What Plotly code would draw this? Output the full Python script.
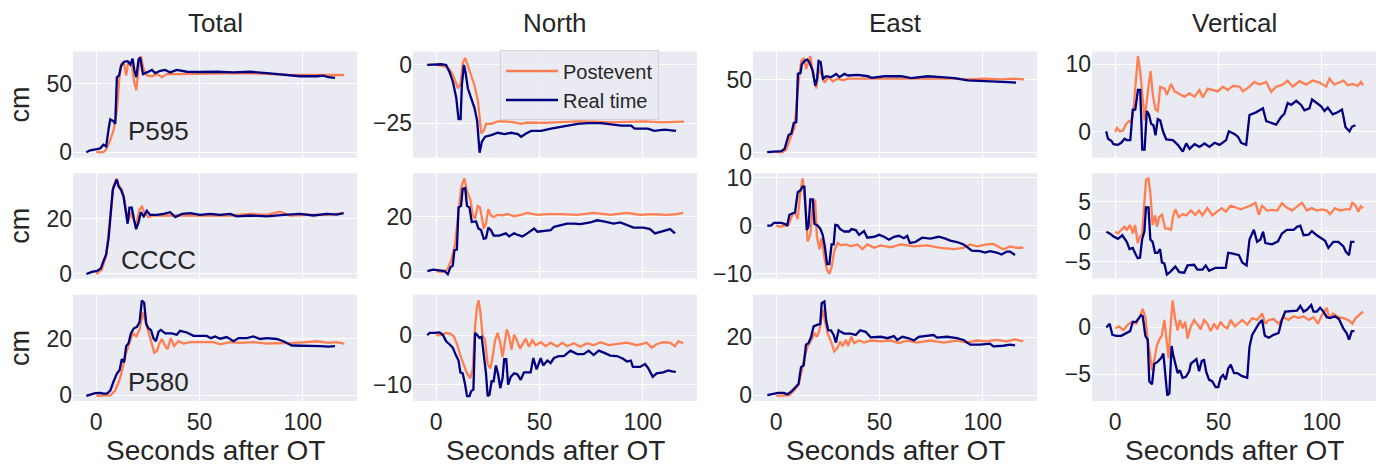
import plotly.graph_objects as go

# ---------------- data: seconds after OT, displacement in cm ----------------
# P595
p595_total_rt_t = [-4.8,-2.9,0.3,1.9,3.5,4.8,6,6.8,8.4,9.2,10,11.1,12,13.5,15.2,16.5,17.6,18.5,19.4,20.5,21.3,22.6,24.5,27,28.5,31,33.4,35.8,39,43.9,50.3,58.4,66.5,74.5,82.6,90.6,98.7,106.8,110,112.4,115.6]
p595_total_rt_v = [0,1.4,2.3,2.8,5.4,4.2,17,24,22.5,20.7,54.7,56,63,66,66.4,64,68.3,59.4,54.7,67.6,69.2,57,58.2,60,57.7,59.4,60,58.2,60,58.7,58.5,58.7,58.2,58.7,57.7,56.3,55.4,55.4,55.9,54.7,54.2]
p595_total_post_t = [0,3.5,4.8,6.8,8.4,10,11.3,12.4,13.5,14.5,15.6,17.3,18.4,19.4,20.5,21.6,22.9,24.5,27,29.4,31.8,34.2,39,45.5,53.5,63.2,74.5,85.8,95.5,106.8,114.8,120]
p595_total_post_v = [0,0,2,9,16,30,56,65,64,56,66.4,63,51,45.3,61.7,70,60.6,56,55.4,57,54.7,57,57,57,57.5,57.5,57.7,57,56.3,56.3,56.6,56.3]

p595_north_rt_t = [-4.4,2.4,4.8,6.5,8.1,9.7,10.8,11.8,12.4,13.4,14.2,15.3,16.9,18.5,19.8,21,22.1,23.7,26.6,29.8,33,36.3,39.5,41.1,43.5,46,50.8,55.6,63.7,68.5,73.4,79.8,89.5,94.4,96,102.4,105.6,110.5,116.1]
p595_north_rt_v = [0,0.3,0,-3.2,-7.3,-14.2,-23.2,-23.2,-8.7,0,-3.2,-10,-14.2,-18.4,-23.9,-37.7,-32.9,-30.8,-30.1,-29.1,-29.7,-29.1,-29.7,-30.8,-29.4,-28.3,-28.3,-27.3,-26,-25.3,-25,-25,-26,-26,-27.3,-27.3,-28.3,-27.8,-28.3]
p595_north_post_t = [0,3.2,5.3,6.9,8.5,10.5,11.8,12.9,14,15,16.1,17.3,18.5,20.2,21.8,23.1,24.2,26.6,29.8,33,37.9,41.1,44.4,52.4,60.5,68.5,76.6,84.7,92.7,100.8,108.9,115.3,120]
p595_north_post_v = [0,-0.4,-1.1,-2.5,-5.2,-10,-8,1,3,0.3,-3.2,-5.9,-8.7,-15.6,-29.4,-28,-25.3,-25.3,-24.2,-24.2,-24.6,-25.3,-24.7,-24.9,-24.6,-24.2,-24.3,-24.6,-24.4,-24.2,-24.6,-24.3,-24.3]

p595_east_rt_t = [-4.4,2.4,4,6,7.3,8.5,9.7,10.5,11.8,12.4,13.7,15,16.1,17.7,18.9,19.8,20.5,21.5,22.6,24.2,26.6,29,30.6,33,34.7,39.5,44.4,46,52.4,60.5,65.3,73.4,79.8,86.3,92.7,100.8,108.9,112.1,116.1]
p595_east_rt_v = [0,0.7,2.2,11.8,12.9,20.2,20.7,54,54.7,60.7,62.9,64,61.8,56.2,45.8,50.7,62.9,62.2,50.7,52.4,51.8,54,51.8,54,52.9,53.3,52.4,51.3,52.4,52.4,51.1,52.4,51.8,51.1,49.6,49.1,49.1,48.4,48]
p595_east_post_t = [0,3.2,4.8,6.9,8.9,10.8,12.1,13.4,14.5,15.6,16.6,17.7,19.4,20.5,21.8,23.4,25.3,27.4,29.8,32.3,34.7,39.5,44.4,52.4,60.5,68.5,76.6,84.7,92.7,100.8,108.9,115.3,120]
p595_east_post_v = [0,0,1.8,9.6,17.3,48.4,62.9,65,57.3,62.9,66.2,54,44,57.3,54,48,51.8,48.9,50.7,49.6,50.7,50.7,50.7,50.7,51.1,50.7,51.1,50.7,50.2,50.7,50.2,50.7,50.2]

p595_vert_rt_t = [-4.4,-3.5,-1.9,-0.8,1.3,2.9,4.5,5.6,7.3,8.5,9.7,11,12.1,13.1,14.2,15.3,16.3,17.4,18.5,19.5,20.6,21.8,23.1,24.7,27.9,30.3,32.7,34.4,36,38.4,40.8,43.2,45.6,48.1,50.5,53.7,55,57.7,59.4,61,63.4,65,68.2,71.5,73.1,75.5,77.9,80.3,81.9,83.5,85.2,87.6,90,91.6,94,95.3,97.3,99.7,101.3,102.9,105.3,107.7,109.8,111.5,113.4,114.7,116.3]
p595_vert_rt_v = [0.1,-1,-1.3,-1.8,-1.9,-1.6,-1,-1.2,-1.2,3.3,3.3,6.2,6.2,-2.6,-2.6,3.1,2.6,1.2,1,-0.5,1.9,1.7,0.1,-1.1,-1.2,-1.9,-2.9,-1.7,-2.5,-1.8,-2.2,-1.7,-2.2,-1.6,-1.9,-1.2,0.1,-0.3,-0.7,-1.6,-1.9,2.5,2.9,3.5,1.6,1.4,1.1,2.2,2.7,4.3,4,4.6,4,3.2,3.5,4.8,4.4,3.8,3.1,3.6,2.6,2.9,3.3,0.7,0.1,0.8,1]
p595_vert_post_t = [0,0.8,2.1,3.7,5.3,6.6,7.7,8.9,9.8,11,12.1,13.1,14.2,15.8,17.1,18.2,19.5,20.6,21.8,23.9,25,27.1,28.7,31.1,33.5,35.9,38.4,40.8,42.4,44.8,47.3,49.7,52.1,54.5,56.9,60.2,61.8,65,67.4,69.8,73.1,75.5,77.9,81.1,83.5,85.9,89.2,92.4,95.6,98.9,102.1,103.7,106.1,108.5,110.5,112.6,115,117.4,119,120]
p595_vert_post_v = [0,0.6,0.1,0.2,1.2,1.6,1.4,3.3,6.9,11.2,9,5,1.7,6,9,5.5,3.3,3.1,6.7,6.4,5.5,7.1,6,5.6,5.2,5.7,5.2,6.2,5.1,6.4,6.2,6,6.7,6.2,6.8,6.7,6,6.7,7.4,7,7.4,5.9,6.7,7,7.6,6.7,7.5,7,7.6,7.3,6.7,7.9,7,7.3,7.6,6.9,7.1,6.8,7.4,6.9]

# CCCC
cccc_total_rt_t = [-4.8,-2.1,0.4,2.2,3.6,4.8,6.0,7.1,8.0,9.2,10.0,10.8,12.0,13.2,14.3,15.2,16.1,17.2,18.4,19.3,20.5,21.6,23.0,24.5,26.1,29.4,32.6,35.8,38.3,41.5,45.5,50.3,55.1,60.0,64.9,68.1,74.5,82.6,90.7,98.7,105.2,111.6,116.4,119.7]
cccc_total_rt_v = [-0.2,0.6,0.9,1.8,4.7,7,13,23.5,30.6,33,34.4,31.8,30.6,28.2,22.9,18.2,24.1,24.1,19.4,16.2,18.8,22.4,20.9,22.9,21.4,21.4,21.8,22.4,20.6,21.8,22.1,21.4,21.8,21.4,21.8,20.9,21.2,20.9,21.4,21.8,21.2,21.8,21.5,22.1]
cccc_total_post_t = [0,2.7,4.8,6.8,8.3,9.7,10.8,12.4,13.5,14.9,15.7,16.7,17.8,19.3,21.0,22.1,23.25,25.3,27.7,32.6,39.0,47.1,56.8,66.4,74.5,82.6,89.0,93.9,101.9,111.6,120]
cccc_total_post_v = [-0.2,1.4,6.5,21,31.8,34.7,32.4,30.6,27.6,21.2,19.4,22.4,20.6,17.6,23.5,24.5,22.4,20.6,21.2,21.2,21.4,21.2,21.2,21.2,21.8,21.4,22.6,21.2,21.4,21.4,22.1]

cccc_north_rt_t = [-4.3,-1.6,1.6,4,5.6,6.9,8,8.8,10,10.8,12,12.8,14,14.9,16.1,17.2,19.3,20.4,21.7,23,24.1,25.2,26.5,27.8,30.5,33.7,35.3,37.7,39.3,41.7,44.1,47.4,49,52.2,55.4,57,60.2,63.4,66.6,69.8,74.6,77.8,81.1,85.9,89.1,92.3,95.5,100.3,103.5,105.9,108.3,111.6,113.2,115.6]
cccc_north_rt_v = [0,0.5,0.2,0,-1.2,1.4,2,7.6,7.9,23.3,23.9,30.1,30.4,23.9,23.3,18,18.2,15.6,15,11.8,12.1,15.9,15,13,13,13.8,12.7,13.8,13.3,12.7,13.8,15.6,14.4,14.7,15,16.2,16.8,17.4,17.4,17.2,17.8,18.6,18.2,17.4,17.8,16.8,15.9,15.9,15.4,13.8,14.4,15,15.4,13.8]
cccc_north_post_t = [0,3.2,5.3,7.2,9.1,10.8,12,13.6,14.9,16.5,17.7,18.8,20.1,21.2,22.2,23,24.1,25.2,26.5,27.8,29.7,32.1,34.5,37.7,40.9,44.1,49,53.8,60.2,68.2,76.2,84.3,92.3,98.7,105.1,111.6,116.4,119.6]
cccc_north_post_v = [0,-0.4,0.5,3.8,9.7,22.7,30.4,34,29.2,26.3,20.4,19.2,23.9,23.3,19.2,15.6,17.4,22.7,20.4,19.8,20.6,20.4,20.9,20.1,20.6,21.3,20.6,20.9,20.9,20.6,21.3,20.6,21.3,20.6,20.9,20.6,20.9,21.3]

cccc_east_rt_t = [-4.3,-2.4,-1.1,2.4,4,5.3,6.4,8,9.1,10.4,11.7,12.8,13.6,14.8,15.6,16.5,17.7,18.5,20.1,21.3,22.5,23.6,24.6,25.7,26.8,27.8,28.6,29.7,31,32.9,35.3,36.4,38.5,40.1,42.5,44.1,47.4,49.8,52.2,54.6,57,59.4,61.8,63.4,64.7,67.4,70.6,74.6,78.7,81.9,84.3,87.5,90.7,94.7,98.7,101.1,103.5,106.7,109.1,111.6,113.2,115.6]
cccc_east_rt_v = [0,0.1,0.6,0.6,0.4,0.1,2.3,2.7,2.8,7,7.4,8.2,8.2,-0.9,-0.2,5.5,5.5,0.4,0,-0.6,-1.9,-4.6,-8,-8,-3.9,-3.9,0.2,0.1,-0.7,-1.2,-1.2,-0.7,-0.9,-1.9,-1.1,-2.5,-2.3,-1.9,-2.3,-2.9,-2.3,-2.1,-2.6,-2.1,-3.6,-3.4,-2.5,-2.7,-2.3,-2.7,-3.1,-3.4,-3.9,-5.2,-5.3,-5.6,-5.3,-5.6,-6,-5.4,-5.4,-6.1]
cccc_east_post_t = [0,1.6,4,5.9,8,9.1,10.4,11.6,12.8,14,15.2,16.5,17.7,18.8,19.7,20.9,22,23.3,24.6,25.7,26.8,28.1,29.7,31.3,33.7,36.1,39.3,41.7,44.1,47.4,50.6,55.4,60.2,66.6,73,79.5,85.9,90.7,93.9,97.1,101.9,105.1,109.9,113.2,116.4,119.6]
cccc_east_post_v = [0.1,-0.2,0,0.1,2.5,2.9,1.4,6.8,9.9,4.8,-3.3,-1.9,4.1,5.5,-2.3,-4.9,-2.6,-6.6,-9.3,-10,-8.7,-5.3,-3.6,-4.1,-3.9,-4.3,-3.9,-4.9,-3.9,-4.6,-4.1,-4.5,-3.9,-4.3,-4.1,-4.6,-4.9,-4.6,-3.9,-4.3,-3.9,-3.8,-4.9,-4.3,-4.6,-4.6]

cccc_vert_rt_t = [-4.3,-2.7,-0.8,1.3,3.4,4.5,5.6,6.9,8.5,9.8,10.9,12,13,14.1,14.9,16.1,17,18.1,19.3,20.5,21.7,22.6,23.8,25,26.5,29.1,31,33.4,35,38.2,39.8,42.2,43.8,45.4,48.6,53.5,54.7,57.5,59.9,61.5,63.6,65,67.1,68.7,70.3,71.6,72.7,75.9,78.8,80.7,83.1,86.4,88,89.6,91.2,93.6,95.2,97.6,100,101.6,103.2,105.6,108,110.4,111.6,113.2,114.2,115.8]
cccc_vert_rt_v = [0,-0.3,-0.8,-1.2,-0.6,-1.2,-1.7,-2.9,-2.7,-3.7,-4.4,-4.3,-1.3,0,4,4,-1.3,-1.7,-3.5,-3.5,-2.9,-5.1,-5.3,-7.1,-6.7,-5.8,-6.7,-6.8,-5.6,-5.5,-6.3,-6.3,-5.6,-6.5,-6,-6,-3.5,-3.7,-3.9,-5.1,-5.6,-1.3,0.3,-1.7,-1.3,0,-1.9,-2.1,-1.6,-0.3,0.3,0.3,0.8,1,-0.6,-0.5,0.1,-0.6,-1.1,-1.5,-2.7,-1.7,-1.7,-2.4,-3.3,-3.9,-1.7,-1.7]
cccc_vert_post_t = [0,1.3,2.9,4.5,5.6,7.2,8.5,9.6,10.9,12,13,14.1,14.9,16.1,17,18.1,19.3,20.2,21.3,22.6,24.2,25.8,27,28.1,29.1,30.7,32.6,34.5,36.6,38.7,40.6,42.2,44.6,47,49.4,51.5,53.5,55.9,58.3,60.7,63.1,65.5,67.9,69.5,71.1,73.5,75.9,78.3,80.7,83.1,85.6,88.8,90.4,92.8,95.2,97.6,100,102.4,104,106.4,108.8,111.2,113.6,114.8,116.4,117.7,118.9,120]
cccc_vert_post_v = [0,-0.3,0.3,0.8,0.3,1.1,-0.3,1.1,-1.9,-0.8,-0.5,4.8,8.6,8.8,6.4,1.1,2.7,0.8,2.4,2.8,0.5,0.5,0.3,2.7,3.7,2.4,2.9,2.7,3.5,2.8,3.5,2.7,3.9,2.7,3.3,3.9,3.3,4.3,4,3.7,4,4.3,4.8,2.8,4.3,3.5,3.6,3.5,4.7,4,3.5,4.3,4.8,3.5,3.9,3.5,3.7,3.5,2.9,3.9,3.5,3.7,3.7,4.8,4.3,3.3,4.2,3.9]

# P580
p580_total_rt_t = [-4.8,-2.9,-0.5,1.9,3.5,5.2,6.8,8.4,10,11.3,12.4,13.5,14.5,15.6,16.8,18.1,19.7,21,22.1,23.2,24.2,25.3,26.5,27.7,28.9,30.2,31.3,33.4,36.6,39,40.6,43.9,47.1,50.3,53.5,55.5,57.6,60,63.2,66.5,68.9,72.9,76.1,79.4,82.6,87.4,90.6,94.7,98.7,103.5,108.4,112.4,115.6]
p580_total_rt_v = [-0.2,0.3,0.8,0.9,0.6,0.6,1.7,4.9,7.7,8.9,12.8,11.7,17.4,18.3,21.9,23.6,24.2,25.9,33.5,32.7,25.3,23.6,23.1,20.2,19.1,22.5,23.1,21.9,21.9,21.4,22.8,22.2,21,21,21,20.2,20.8,20,20.6,19.1,20.2,20.2,20.8,19.9,20.2,19.9,19.1,17.6,17.6,17.4,17.4,17.2,17.4]
p580_total_post_t = [0,3.5,6.8,9.2,11.3,12.9,14.5,16.1,17.7,19.4,21,22.6,23.7,24.8,26.5,28.1,29.4,30.6,31.8,32.9,34.5,36.1,37.7,39.8,42.3,45.5,50.3,56.8,60,64.8,69.7,76.1,82.6,89,95.5,101.9,106.8,112.4,116.5,120]
p580_total_post_v = [-0.2,0,0,1.7,5.5,10,15.1,18.5,21.9,20.8,23.3,29.3,26.5,23.1,19.1,15.1,15.7,18.3,19.9,18,16.3,20.2,17.4,19.1,18.3,18.8,18.8,18.8,18,18.8,18.5,18.8,18.3,18.3,18.5,18.8,19.1,18.5,18.8,18.3]

p580_north_rt_t = [-4.3,-3.2,-0.8,1.6,3.2,4.8,6.4,8,9.6,10.8,11.7,12.8,14,14.9,16.1,16.9,18,18.8,19.7,20.9,22,23,24.1,24.9,25.8,26.8,27.8,28.9,30,31,32.1,32.9,33.9,34.8,36.1,37.7,39.3,40.9,42.5,45.7,47,48.6,50.6,51.8,53.8,55.4,57,59.4,61.8,65,68.2,71.4,73.8,76.2,78.7,81.1,84.3,87.5,90.7,92.3,94.2,95.2,98.7,101.1,102.7,104.8,106.7,109.9,112.4,114,116]
p580_north_rt_v = [0,0.5,0.5,0.6,0.1,-1.2,-1.8,-2.5,-4.1,-5.1,-7.5,-7.7,-10,-12.3,-12.3,-11.3,-11,0.5,0.1,-0.5,-0.3,-3.5,-7.7,-12.3,-12,-9.3,-9.3,-6.1,-8,-10.7,-8.7,-4.8,-4.8,-10,-8.4,-7.7,-7.9,-9,-7.5,-7.5,-4.6,-6.9,-4.6,-6.1,-5.1,-5.6,-4.6,-4.2,-4.2,-3.1,-3.8,-3.8,-3.1,-4,-3.1,-3.5,-4.1,-4.2,-4.8,-5.3,-5.1,-6.4,-6.4,-5.8,-6.7,-8.4,-7.7,-7.5,-7.1,-7.3,-7.4]
p580_north_post_t = [0,2.4,4.8,6.9,8.5,10.1,11.7,13.3,14.9,16.5,17.7,18.8,19.7,20.5,21.3,22.5,23.6,24.9,26.2,27.3,28.4,29.7,31,32.1,33.2,34.2,35.3,36.4,37.7,39,40.6,42.2,43.3,44.9,46.5,48.2,50.6,53,55.4,58.6,61,63.4,66.6,69.8,73,76.2,79.5,83.5,87.5,92.3,97.1,101.9,104.3,106.7,109.9,113.2,115.6,117.2,119.6]
p580_north_post_v = [0,0.1,0.5,0.3,-0.2,-1.8,-4.1,-6.1,-7.7,-8.7,-6.7,1.8,5.7,7.1,5,-0.2,-0.8,-5.8,-6.7,-4.4,-1.2,0.5,-1.5,-4.4,-1.2,1.2,-0.2,-2.9,0.1,-1,-2.7,-1.5,-0.7,-2.3,-1,-2,-1.4,-2.2,-1.5,-2.3,-1.5,-2.2,-1.6,-2.3,-1.6,-2,-1.4,-2,-1.8,-1.5,-2,-1.5,-2.5,-1.8,-1.4,-1.5,-2.2,-1.2,-1.6]

p580_east_rt_t = [-4.3,-1.6,0.8,3.7,5.3,7.2,9.1,10.8,12,13.3,14.4,15.6,16.9,18.1,20.1,21.3,22,23.3,24.2,25.2,26.5,27.8,28.9,30.2,31.3,32.9,36.1,38.5,40.6,43.3,45.7,50.6,53.8,57,58.6,61,64.2,66.6,69,73,76.2,77.8,82.7,87.5,90.7,93.9,98.7,103.5,105.1,109.9,113.2,115.6]
p580_east_rt_v = [0,0.3,0.8,0.8,0.3,1.2,2.5,3.9,9.7,10.3,17.5,18,20.2,23.8,24.4,24.6,31.8,32.4,25.7,22.4,22.4,20.8,18.2,22.4,21.9,21.3,21.3,20.8,22.4,21.9,20,20.2,19.7,20.4,19.1,20.2,19.7,18.9,20.2,20.4,20.8,19.9,20.2,19.7,19.1,17.5,17.5,17.8,16.9,17.1,17.5,17.2]
p580_east_post_t = [0,4,6.4,8.8,10.8,12.4,13.6,15.2,16.9,18.5,19.7,20.9,22.5,23.6,24.9,26.5,28.1,29.7,31,32.1,33.7,34.8,36.4,37.7,40.1,42.5,45.7,50.6,55.4,59.4,63.4,68.2,74.6,81.1,87.5,92.3,97.1,101.9,106.7,111.6,115.6,119.6]
p580_east_post_v = [-0.2,-0.2,0,1.7,3.6,8.6,13,16.9,18.9,21.3,20.2,22.4,29.6,25.7,21.3,18.6,15.2,16.4,18.6,16.9,19.1,17.1,20.2,18,18.9,18.2,18.9,18.6,18.9,18,18.9,18.2,18.9,18.2,18.9,18.2,18.9,18.6,19.1,18.6,19.3,18.6]

p580_vert_rt_t = [-4.3,-2.7,-1.4,0.5,2.9,5.3,7.2,8.5,10.1,11.4,12.5,13.3,14.6,15.7,16.5,17.8,18.9,20.5,22.2,23.3,24.2,25.2,26.2,27.3,28.1,29.1,30.2,31.3,32.6,34.2,35.8,36.6,38.2,39.3,40.6,41.9,43,44.1,45.4,47,48.6,49.9,51,52.2,53.5,54.7,55.9,57.5,59.1,61.2,63.9,65,66.3,67.9,69.5,71.1,72.4,74.3,76.7,79.1,80.7,82.3,85.6,88,89.6,91.2,92.8,94.9,96,97.6,99.2,100.8,102.4,104,106.4,108.3,110.4,112,113.2,114.5,115.8]
p580_vert_rt_v = [0,0.4,-0.8,-0.9,-0.9,-0.6,-0.4,0.6,0.6,1,1.3,1.2,-0.9,-1.3,-5.8,-6.1,-3.9,-3.7,-3.3,-2.8,-4.7,-7.3,-7.1,-2,-3,-3.9,-4.9,-4.6,-5.4,-5.3,-4.7,-3.9,-3.6,-3.4,-4.7,-3.6,-3.5,-4.8,-5.6,-5.8,-6.4,-6.4,-5.4,-5.1,-5.6,-4.4,-4,-4.9,-4.9,-5.2,-5.4,-2.1,-0.8,-0.2,0.4,0.8,-0.9,-1.1,-0.8,-0.6,0.8,1.7,1.8,1.8,2.3,1.7,1.9,2.4,1.7,1.7,2.1,1.7,1.1,1,1.2,0.9,-0.1,-0.6,-1.3,-0.4,-0.4]
p580_vert_post_t = [0,1.8,4,6.1,8.2,10.1,11.7,13.3,14.6,15.7,16.9,17.8,18.9,20.1,21.3,22.5,23.8,24.9,25.8,27,27.8,29.1,30.2,31.3,32.6,33.9,35,36.6,38.2,39.8,41.4,43,44.6,46.2,47.8,49.4,51,52.6,54.3,55.9,57.9,59.9,61.5,63.9,66.3,68.7,71.1,72.7,74.3,76.7,79.1,81.5,83.9,86.3,88.8,91.2,93.6,96,98.1,100,102.4,103.5,105.6,108,110.4,112.8,114.8,116.4,118,120]
p580_vert_post_v = [-0.1,0.1,-0.3,0.3,0.6,0.4,1,2,1.1,-1.3,-3,-4.6,-3.5,-2,-1.3,-0.9,0.8,-1.3,-3.3,0.8,2.9,0.8,-0.3,0.8,-0.1,0.6,-1.2,0.1,0.8,0.3,-0.2,0.8,0.4,-0.4,0.4,-0.2,0.6,0.1,-0.1,0.8,0.1,0.5,0.8,0.3,1,0.8,1.5,0.4,0.8,0.9,0.4,1.1,0.8,1.2,1,1.2,0.8,1.1,0.4,1.3,2.1,1,1.5,1.1,1,0.8,0.4,1,1.3,1.7]

stations = ["P595", "CCCC", "P580"]
components = ["Total", "North", "East", "Vertical"]
x_tick_vals = [0, 50, 100]
x_label = "Seconds after OT"
y_label = "cm"
series_names = ["Postevent", "Real time"]

panel_data = [
    [(p595_total_post_t, p595_total_post_v, p595_total_rt_t, p595_total_rt_v),
     (p595_north_post_t, p595_north_post_v, p595_north_rt_t, p595_north_rt_v),
     (p595_east_post_t, p595_east_post_v, p595_east_rt_t, p595_east_rt_v),
     (p595_vert_post_t, p595_vert_post_v, p595_vert_rt_t, p595_vert_rt_v)],
    [(cccc_total_post_t, cccc_total_post_v, cccc_total_rt_t, cccc_total_rt_v),
     (cccc_north_post_t, cccc_north_post_v, cccc_north_rt_t, cccc_north_rt_v),
     (cccc_east_post_t, cccc_east_post_v, cccc_east_rt_t, cccc_east_rt_v),
     (cccc_vert_post_t, cccc_vert_post_v, cccc_vert_rt_t, cccc_vert_rt_v)],
    [(p580_total_post_t, p580_total_post_v, p580_total_rt_t, p580_total_rt_v),
     (p580_north_post_t, p580_north_post_v, p580_north_rt_t, p580_north_rt_v),
     (p580_east_post_t, p580_east_post_v, p580_east_rt_t, p580_east_rt_v),
     (p580_vert_post_t, p580_vert_post_v, p580_vert_rt_t, p580_vert_rt_v)],
]

y_tick_vals = [
    [[0, 50], [-25, 0], [0, 50], [0, 10]],
    [[0, 20], [0, 20], [-10, 0, 10], [-5, 0, 5]],
    [[0, 20], [-10, 0], [0, 20], [-5, 0]],
]
y_ranges = [
    [[-4.0, 73.5], [-39.8, 5.8], [-3.8, 69.5], [-3.8, 11.9]],
    [[-1.8, 36.7], [-2.7, 35.9], [-11.0, 11.0], [-7.75, 9.7]],
    [[-2.0, 35.5], [-13.3, 8.2], [-2.0, 34.7], [-7.9, 3.5]],
]
x_range = [-11.25, 126.25]

# ---------------- layout geometry (pixels) ----------------
W, H = 1379, 466
col_px = [(73, 357), (413, 697), (753, 1037), (1092, 1376)]
row_px = [(45, 155), (171, 280), (297, 407)]
station_pos = [(126, 127), (119, 261), (126, 387)]

COL_POST = "#FF7F50"
COL_RT = "#000080"
TXT = "#262626"
FONT = "Liberation Sans, Arial, sans-serif"

fig = go.Figure()
layout = dict(
    width=W, height=H, margin=dict(l=0, r=0, t=0, b=0),
    paper_bgcolor="white", plot_bgcolor="#EAEAF2",
    font=dict(family=FONT, color=TXT),
    showlegend=True,
    legend=dict(x=500 / W, y=1 - 44 / H, xanchor="left", yanchor="top",
                bgcolor="rgba(234,234,242,0.85)", bordercolor="#D2D2D8", borderwidth=1,
                font=dict(size=20, color=TXT, family=FONT), tracegroupgap=0,
                itemwidth=52),
)
annotations = []

for r in range(3):
    for c in range(4):
        k = r * 4 + c + 1
        xs = "x" if k == 1 else f"x{k}"
        ys = "y" if k == 1 else f"y{k}"
        xa = "xaxis" if k == 1 else f"xaxis{k}"
        ya = "yaxis" if k == 1 else f"yaxis{k}"
        pt, pv, rt, rv = panel_data[r][c]
        fig.add_trace(go.Scatter(x=pt, y=pv, mode="lines", name=series_names[0],
                                 line=dict(color=COL_POST, width=2.3),
                                 xaxis=xs, yaxis=ys, showlegend=(k == 2),
                                 legendgroup="post", hoverinfo="skip"))
        fig.add_trace(go.Scatter(x=rt, y=rv, mode="lines", name=series_names[1],
                                 line=dict(color=COL_RT, width=2.3),
                                 xaxis=xs, yaxis=ys, showlegend=(k == 2),
                                 legendgroup="rt", hoverinfo="skip"))
        x0, x1 = col_px[c]
        y0, y1 = row_px[r]
        layout[xa] = dict(
            domain=[x0 / W, x1 / W], anchor=ys, range=x_range,
            tickvals=x_tick_vals, showticklabels=(r == 2),
            showgrid=True, gridcolor="white", gridwidth=1.4,
            zeroline=False, showline=False, ticks="", ticklabelstandoff=5,
            tickfont=dict(size=23, color=TXT, family=FONT),
        )
        layout[ya] = dict(
            domain=[1 - y1 / H, 1 - y0 / H], anchor=xs, range=y_ranges[r][c],
            tickvals=y_tick_vals[r][c], showgrid=True, gridcolor="white",
            gridwidth=1.4, zeroline=False, showline=False, ticks="",
            tickfont=dict(size=23, color=TXT, family=FONT),
        )

# column titles and x labels
for c in range(4):
    cx = (col_px[c][0] + col_px[c][1]) / 2 / W
    annotations.append(dict(text=components[c], x=cx, y=1 - 16 / H, xref="paper", yref="paper",
                            xanchor="center", yanchor="middle", showarrow=False,
                            font=dict(size=26, color=TXT, family=FONT)))
    annotations.append(dict(text=x_label, x=cx, y=1 - 458 / H, xref="paper", yref="paper",
                            xanchor="center", yanchor="middle", showarrow=False,
                            font=dict(size=28, color=TXT, family=FONT)))
# y labels and station names
for r in range(3):
    cy = (row_px[r][0] + row_px[r][1]) / 2 / H
    annotations.append(dict(text=y_label, x=20 / W, y=1 - cy, xref="paper", yref="paper",
                            xanchor="center", yanchor="middle", textangle=-90, showarrow=False,
                            font=dict(size=27, color=TXT, family=FONT)))
    sx, sy = station_pos[r]
    annotations.append(dict(text=stations[r], x=sx / W, y=1 - sy / H, xref="paper", yref="paper",
                            xanchor="left", yanchor="middle", showarrow=False,
                            font=dict(size=26, color=TXT, family=FONT)))

layout["annotations"] = annotations
fig.update_layout(**layout)
fig.write_html("out.html", config={"displayModeBar": False})

# remove the browser's default page margin so the figure sits at (0, 0)
with open("out.html", "r", encoding="utf-8") as fh:
    html = fh.read()
html = html.replace("<head>", "<head><style>html,body{margin:0;padding:0;overflow:hidden;}</style>", 1)
with open("out.html", "w", encoding="utf-8") as fh:
    fh.write(html)
